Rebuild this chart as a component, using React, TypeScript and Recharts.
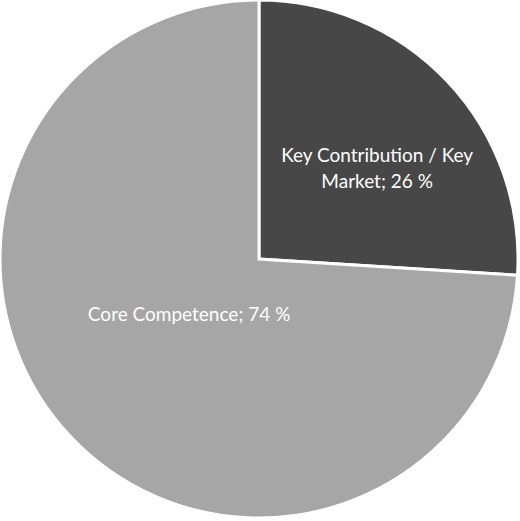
import React from 'react';
import { PieChart, Pie, Cell } from 'recharts';

const categories = ['Key Contribution / Key Market', 'Core Competence'];
const shares = [26, 74];
const colors = ['#474747', '#a6a6a6'];

const data = categories.map((name, i) => ({ name, value: shares[i] }));

const RAD = Math.PI / 180;

// label placement per slice: radius as a fraction of outer radius, angle nudge
const labelPlace = [
  { ratio: 0.578, shift: -5.3 },
  { ratio: 0.341, shift: -5.5 },
];

const wrap = (text: string, max: number) => {
  const words = text.split(' ');
  const lines: string[] = [];
  let cur = '';
  words.forEach((w) => {
    const next = cur ? cur + ' ' + w : w;
    if (next.length > max && cur) {
      lines.push(cur);
      cur = w;
    } else {
      cur = next;
    }
  });
  if (cur) lines.push(cur);
  return lines;
};

const renderLabel = (props: any) => {
  const { cx, cy, midAngle, outerRadius, index, name, value } = props;
  const p = labelPlace[index];
  const a = (midAngle + p.shift) * RAD;
  const r = outerRadius * p.ratio;
  const x = cx + r * Math.cos(a);
  const y = cy - r * Math.sin(a);
  const lines = wrap(`${name}; ${value} %`, 24);
  const lh = 26;
  const y0 = y - ((lines.length - 1) * lh) / 2;
  return (
    <text
      x={x}
      y={y0}
      fill="#ffffff"
      textAnchor="middle"
      dominantBaseline="central"
      fontFamily="Lato, 'Open Sans', sans-serif"
      fontSize={19}
    >
      {lines.map((l, i) => (
        <tspan key={i} x={x} y={y0 + i * lh}>
          {l}
        </tspan>
      ))}
    </text>
  );
};

const App = () => {
  return (
    <div style={{ position: 'absolute', left: 0, top: 0, width: 520, height: 521, background: '#ffffff' }}>
      <PieChart width={520} height={521} margin={{ top: 0, right: 0, bottom: 0, left: 0 }}>
        <Pie
          data={data}
          dataKey="value"
          nameKey="name"
          cx={259}
          cy={259}
          outerRadius={259}
          startAngle={90}
          endAngle={-270}
          stroke="#ffffff"
          strokeWidth={3}
          label={renderLabel}
          labelLine={false}
          isAnimationActive={false}
        >
          {data.map((d, i) => (
            <Cell key={d.name} fill={colors[i]} />
          ))}
        </Pie>
      </PieChart>
    </div>
  );
};

export default App;
